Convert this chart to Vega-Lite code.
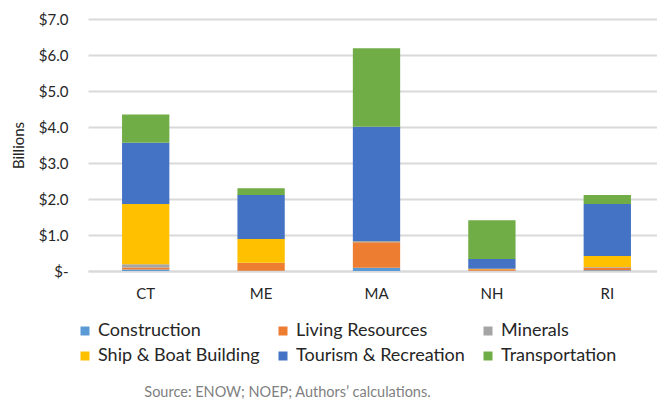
{
  "$schema": "https://vega.github.io/schema/vega-lite/v6.json",
  "width": 577,
  "height": 252,
  "autosize": "none",
  "padding": {"left": 88, "top": 19, "right": 0, "bottom": 130},
  "background": "white",
  "title": {
    "text": "Sector, by State, 2016",
    "font": "Lato",
    "fontSize": 17,
    "fontStyle": "italic",
    "fontWeight": "bold",
    "color": "#9DC3E6",
    "anchor": "middle",
    "dx": -81,
    "baseline": "alphabetic",
    "offset": 17
  },
  "config": {
    "view": {"stroke": null},
    "font": "Lato"
  },
  "data": {
    "values": [
      {"state": "CT", "sector": "Construction", "value": 0.04},
      {"state": "CT", "sector": "Living Resources", "value": 0.06},
      {"state": "CT", "sector": "Minerals", "value": 0.09},
      {"state": "CT", "sector": "Ship & Boat Building", "value": 1.67},
      {"state": "CT", "sector": "Tourism & Recreation", "value": 1.70},
      {"state": "CT", "sector": "Transportation", "value": 0.79},
      {"state": "ME", "sector": "Construction", "value": 0.01},
      {"state": "ME", "sector": "Living Resources", "value": 0.22},
      {"state": "ME", "sector": "Minerals", "value": 0.0},
      {"state": "ME", "sector": "Ship & Boat Building", "value": 0.66},
      {"state": "ME", "sector": "Tourism & Recreation", "value": 1.22},
      {"state": "ME", "sector": "Transportation", "value": 0.19},
      {"state": "MA", "sector": "Construction", "value": 0.09},
      {"state": "MA", "sector": "Living Resources", "value": 0.71},
      {"state": "MA", "sector": "Minerals", "value": 0.005},
      {"state": "MA", "sector": "Ship & Boat Building", "value": 0.015},
      {"state": "MA", "sector": "Tourism & Recreation", "value": 3.19},
      {"state": "MA", "sector": "Transportation", "value": 2.18},
      {"state": "NH", "sector": "Construction", "value": 0.01},
      {"state": "NH", "sector": "Living Resources", "value": 0.04},
      {"state": "NH", "sector": "Minerals", "value": 0.0},
      {"state": "NH", "sector": "Ship & Boat Building", "value": 0.01},
      {"state": "NH", "sector": "Tourism & Recreation", "value": 0.27},
      {"state": "NH", "sector": "Transportation", "value": 1.08},
      {"state": "RI", "sector": "Construction", "value": 0.02},
      {"state": "RI", "sector": "Living Resources", "value": 0.08},
      {"state": "RI", "sector": "Minerals", "value": 0.01},
      {"state": "RI", "sector": "Ship & Boat Building", "value": 0.31},
      {"state": "RI", "sector": "Tourism & Recreation", "value": 1.44},
      {"state": "RI", "sector": "Transportation", "value": 0.25}
    ]
  },
  "mark": {"type": "bar"},
  "encoding": {
    "x": {
      "field": "state",
      "type": "nominal",
      "sort": ["CT", "ME", "MA", "NH", "RI"],
      "scale": {"paddingInner": 0.59, "paddingOuter": 0.295},
      "axis": {
        "title": "Source: ENOW; NOEP; Authors’ calculations.",
        "titleFont": "Lato",
        "titleFontSize": 14.5,
        "titleFontWeight": "normal",
        "titleColor": "#7F7F7F",
        "titleX": 199,
        "titleY": 121,
        "titleAlign": "center",
        "titleBaseline": "middle",
        "labelAngle": 0,
        "labelFontSize": 15,
        "labelColor": "#262626",
        "labelPadding": 15,
        "ticks": false,
        "domainColor": "#D9D9D9",
        "domainWidth": 2
      }
    },
    "y": {
      "field": "value",
      "type": "quantitative",
      "stack": "zero",
      "scale": {"domain": [0, 7], "nice": false},
      "axis": {
        "title": "Billions",
        "titleFontSize": 15,
        "titleFontWeight": "normal",
        "titleColor": "#262626",
        "titlePadding": 12,
        "values": [0, 1, 2, 3, 4, 5, 6, 7],
        "labelExpr": "datum.value == 0 ? '$-' : '$' + format(datum.value, '.1f')",
        "labelFontSize": 15,
        "labelColor": "#262626",
        "labelPadding": 20,
        "ticks": false,
        "domain": false,
        "grid": true,
        "gridColor": "#D9D9D9",
        "gridWidth": 2
      }
    },
    "order": {"field": "sector", "type": "nominal", "sort": "ascending"},
    "color": {
      "field": "sector",
      "type": "nominal",
      "scale": {
        "domain": ["Construction", "Living Resources", "Minerals", "Ship & Boat Building", "Tourism & Recreation", "Transportation"],
        "range": ["#5B9BD5", "#ED7D31", "#A5A5A5", "#FFC000", "#4472C4", "#70AD47"]
      },
      "legend": {
        "title": null,
        "orient": "none",
        "legendX": -12,
        "legendY": 303,
        "direction": "horizontal",
        "columns": 3,
        "columnPadding": 14,
        "rowPadding": 7,
        "symbolType": "square",
        "symbolSize": 81,
        "symbolStrokeWidth": 0,
        "labelFontSize": 18,
        "labelLimit": 400,
        "labelColor": "#262626",
        "labelOffset": 4
      }
    }
  }
}
